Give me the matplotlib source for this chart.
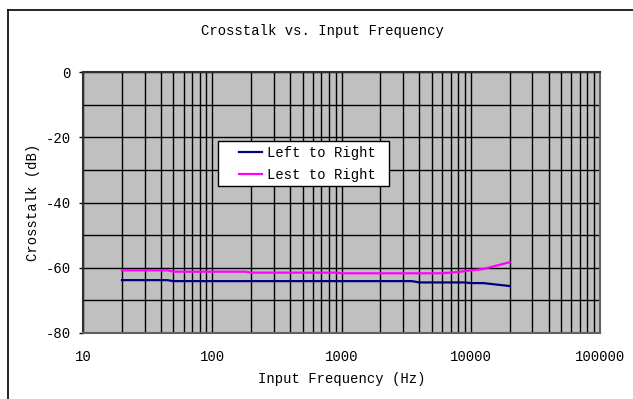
import matplotlib
matplotlib.use("Agg")
import matplotlib.pyplot as plt
from matplotlib.lines import Line2D
from matplotlib.legend_handler import HandlerLine2D
from matplotlib.ticker import LogLocator, FixedLocator, NullFormatter, FixedFormatter

plt.rcParams["font.family"] = ["Liberation Mono", "DejaVu Sans Mono"]
plt.rcParams["axes.unicode_minus"] = False

# Left-to-right channel crosstalk (dB)
freq_lr = [20, 45, 50, 3500, 4000, 9000, 10000, 12500, 20000]
xtalk_lr = [-63.8, -63.8, -64.1, -64.1, -64.5, -64.5, -64.7, -64.7, -65.6]

# Second channel trace (dB)
freq_rl = [20, 45, 50, 180, 200, 900, 1000, 6000, 8000, 10000, 12500, 20000]
xtalk_rl = [-60.8, -60.8, -61.2, -61.2, -61.5, -61.5, -61.7, -61.7, -61.3, -60.8, -60.4, -58.3]

series_labels = ["Left to Right", "Lest to Right"]
y_ticks = [0, -20, -40, -60, -80]
x_ticks = [10, 100, 1000, 10000, 100000]

fig = plt.figure(figsize=(6.33, 3.99), dpi=100)
ax = fig.add_axes([83 / 633, 1 - 333 / 399, 517 / 633, 261 / 399])
ax.set_facecolor("#C0C0C0")

ax.plot(freq_lr, xtalk_lr, color="#000080", lw=1.6, label=series_labels[0])
ax.plot(freq_rl, xtalk_rl, color="#FF00FF", lw=1.6, label=series_labels[1])

ax.set_xscale("log")
ax.set_xlim(10, 100000)
ax.set_ylim(-80, 0)

ax.xaxis.set_major_locator(FixedLocator(x_ticks))
ax.xaxis.set_major_formatter(FixedFormatter([str(v) for v in x_ticks]))
ax.xaxis.set_minor_locator(LogLocator(base=10, subs=range(2, 10)))
ax.xaxis.set_minor_formatter(NullFormatter())
ax.yaxis.set_major_locator(FixedLocator(y_ticks))
ax.yaxis.set_minor_locator(FixedLocator([-10, -30, -50, -70]))

ax.grid(True, which="both", axis="x", color="black", lw=1.0)
ax.grid(True, which="both", axis="y", color="black", lw=1.0)
ax.set_axisbelow(True)

ax.tick_params(axis="x", which="both", length=0, pad=12, labelsize=10)
ax.tick_params(axis="y", which="major", length=3, width=1, pad=6, labelsize=10, direction="out")
ax.tick_params(axis="y", which="minor", length=0)

for side in ["left", "top"]:
    ax.spines[side].set_color("#303030")
    ax.spines[side].set_linewidth(1.5)
for side in ["right", "bottom"]:
    ax.spines[side].set_color("#606060")
    ax.spines[side].set_linewidth(1.5)

ax.set_xlabel("Input Frequency (Hz)", fontsize=10, labelpad=6)
ax.set_ylabel("Crosstalk (dB)", fontsize=10, labelpad=4)
fig.text(322 / 633, 1 - 31 / 399, "Crosstalk vs. Input Frequency",
         ha="center", va="center", fontsize=10)

handles, labels = ax.get_legend_handles_labels()
leg = ax.legend(handles, [l + " " for l in labels],
                loc="upper left", bbox_to_anchor=(0.2611, 0.7356), frameon=True,
                fancybox=False, framealpha=1, edgecolor="black", facecolor="white",
                fontsize=10, handlelength=2.8, borderpad=0.35, labelspacing=0.55,
                handletextpad=0.36, borderaxespad=0,
                handler_map={h: HandlerLine2D(xpad=1.15) for h in handles})
leg.get_frame().set_linewidth(1.0)

# outer chart frame
fig.add_artist(Line2D([8 / 633, 1.0], [1 - 10 / 399, 1 - 10 / 399], color="black", lw=1.2))
fig.add_artist(Line2D([8 / 633, 8 / 633], [0.0, 1 - 10 / 399], color="black", lw=1.2))

fig.savefig("out.png", dpi=100)
